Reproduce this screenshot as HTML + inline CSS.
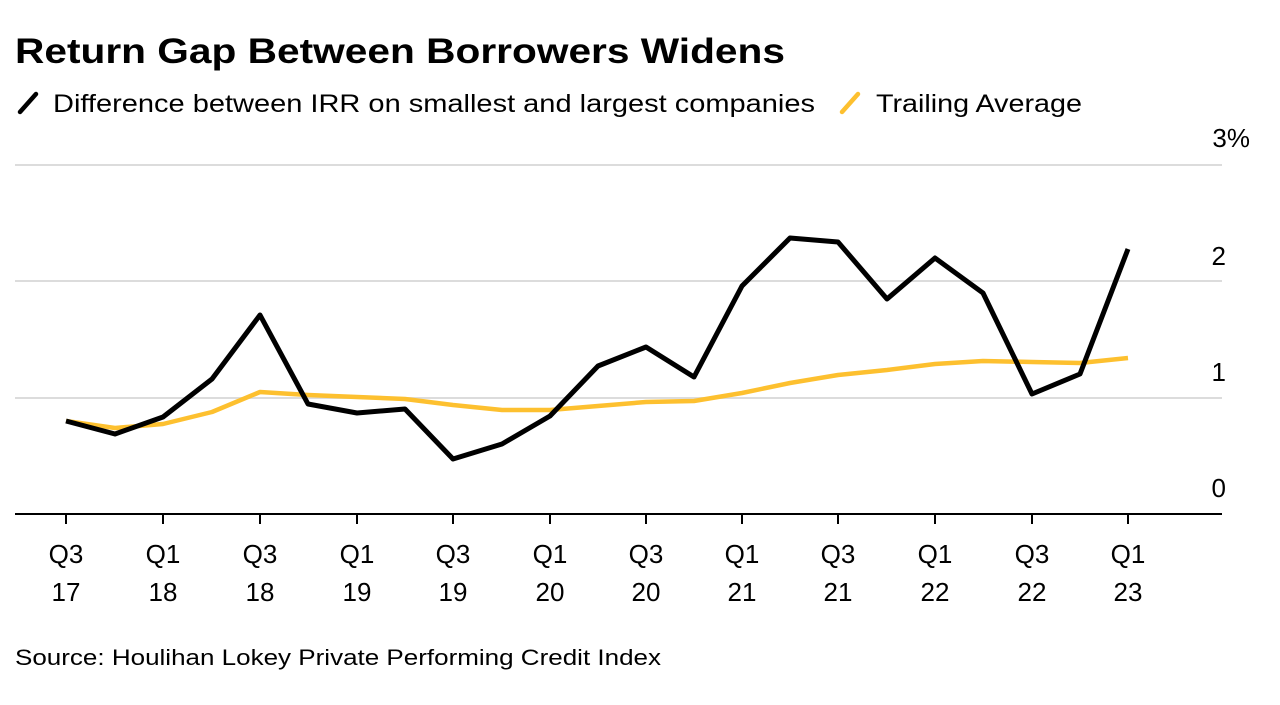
<!DOCTYPE html>
<html><head><meta charset="utf-8"><style>
body{margin:0;background:#fff;width:1280px;height:700px;overflow:hidden;font-family:"Liberation Sans",sans-serif;}
</style></head><body>
<svg width="1280" height="700" xmlns="http://www.w3.org/2000/svg" font-family="Liberation Sans, sans-serif">
<text x="15" y="63" font-size="35" font-weight="bold" fill="#000" textLength="770" lengthAdjust="spacingAndGlyphs">Return Gap Between Borrowers Widens</text>
<line x1="20" y1="112" x2="36" y2="94" stroke="#000" stroke-width="4.5" stroke-linecap="round"/>
<text x="53" y="112" font-size="25" fill="#000" textLength="762" lengthAdjust="spacingAndGlyphs">Difference between IRR on smallest and largest companies</text>
<line x1="842" y1="112" x2="858" y2="94" stroke="#fdc02f" stroke-width="4.5" stroke-linecap="round"/>
<text x="876" y="112" font-size="25" fill="#000" textLength="206" lengthAdjust="spacingAndGlyphs">Trailing Average</text>
<g stroke="#dcdcdc" stroke-width="2">
<line x1="15" y1="165" x2="1222" y2="165"/>
<line x1="15" y1="281" x2="1222" y2="281"/>
<line x1="15" y1="398" x2="1222" y2="398"/>
</g>
<line x1="15" y1="514" x2="1222" y2="514" stroke="#000" stroke-width="2"/>
<g font-size="26" fill="#000" text-anchor="end">
<text x="1250" y="147">3%</text>
<text x="1226" y="265">2</text>
<text x="1226" y="381">1</text>
<text x="1226" y="497">0</text>
</g>
<g stroke="#000" stroke-width="2">
<line x1="66" y1="514" x2="66" y2="524"/><line x1="163" y1="514" x2="163" y2="524"/><line x1="260" y1="514" x2="260" y2="524"/><line x1="357" y1="514" x2="357" y2="524"/><line x1="453" y1="514" x2="453" y2="524"/><line x1="550" y1="514" x2="550" y2="524"/><line x1="646" y1="514" x2="646" y2="524"/><line x1="742" y1="514" x2="742" y2="524"/><line x1="838" y1="514" x2="838" y2="524"/><line x1="935" y1="514" x2="935" y2="524"/><line x1="1032" y1="514" x2="1032" y2="524"/><line x1="1128" y1="514" x2="1128" y2="524"/>
</g>
<g font-size="26" fill="#000" text-anchor="middle">
<text x="66" y="563">Q3</text><text x="66" y="601">17</text>
<text x="163" y="563">Q1</text><text x="163" y="601">18</text>
<text x="260" y="563">Q3</text><text x="260" y="601">18</text>
<text x="357" y="563">Q1</text><text x="357" y="601">19</text>
<text x="453" y="563">Q3</text><text x="453" y="601">19</text>
<text x="550" y="563">Q1</text><text x="550" y="601">20</text>
<text x="646" y="563">Q3</text><text x="646" y="601">20</text>
<text x="742" y="563">Q1</text><text x="742" y="601">21</text>
<text x="838" y="563">Q3</text><text x="838" y="601">21</text>
<text x="935" y="563">Q1</text><text x="935" y="601">22</text>
<text x="1032" y="563">Q3</text><text x="1032" y="601">22</text>
<text x="1128" y="563">Q1</text><text x="1128" y="601">23</text>
</g>
<polyline fill="none" stroke="#fdc02f" stroke-width="4.5" stroke-linejoin="round" points="66,421 115,428 163,424 212,412 260,392 308,395 357,397 405,399 453,405 502,410 550,410 598,406 646,402 694,401 742,393 790,383 838,375 887,370 935,364 983,361 1032,362 1080,363 1128,358"/>
<polyline fill="none" stroke="#000" stroke-width="5" stroke-linejoin="round" points="66,421 115,434 163,417 212,379 260,315 308,404 357,413 405,409 453,459 502,444 550,416 598,366 646,347 694,377 742,286 790,238 838,242 887,299 935,258 983,293 1032,394 1080,374 1128,249"/>
<text x="15" y="665" font-size="22" fill="#000" textLength="646" lengthAdjust="spacingAndGlyphs">Source: Houlihan Lokey Private Performing Credit Index</text>
</svg>
</body></html>
